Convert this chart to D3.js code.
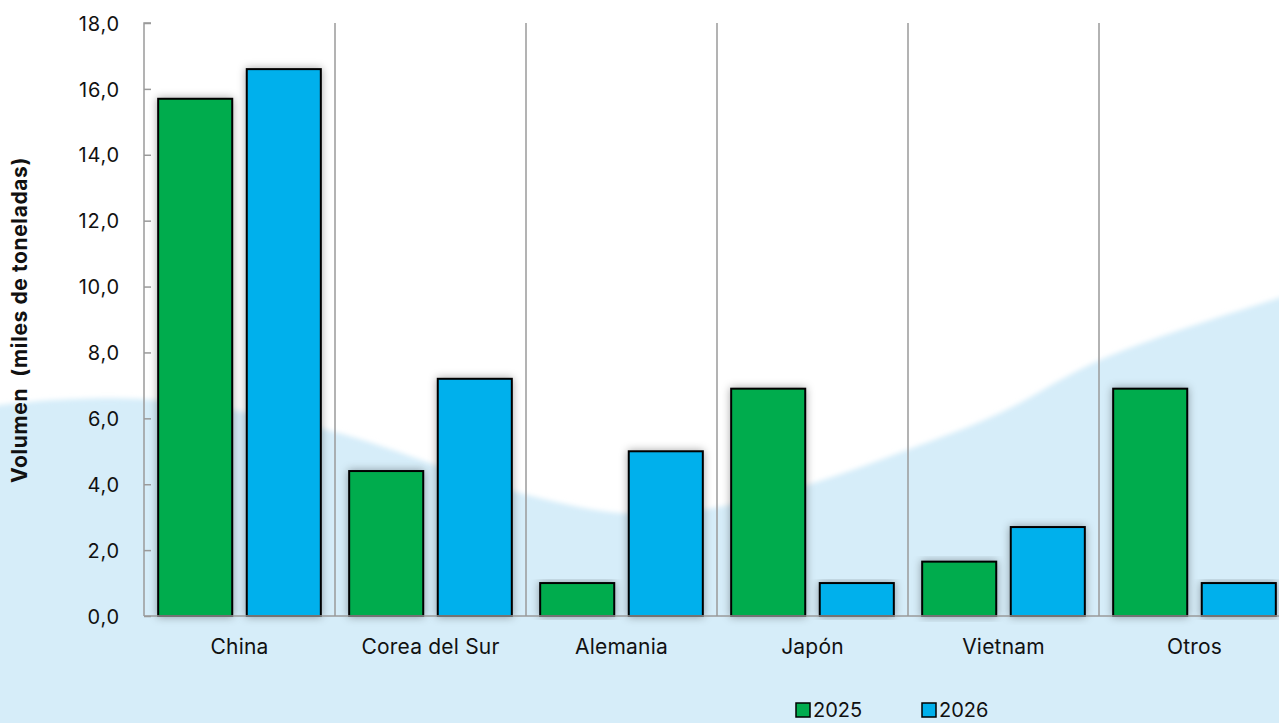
<!DOCTYPE html>
<html><head><meta charset="utf-8">
<script src="https://cdn.jsdelivr.net/npm/d3@7"></script>
<style>body{margin:0;background:#fff;}svg{display:block;font-family:"Inter","Liberation Sans",sans-serif;}</style>
</head><body><svg id="c" width="1279" height="723"></svg>
<script>
const categories = ["China","Corea del Sur","Alemania","Japón","Vietnam","Otros"];
const series = ["2025","2026"];
const values2025 = [15.7, 4.4, 1.0, 6.9, 1.65, 6.9];
const values2026 = [16.6, 7.2, 5.0, 1.0, 2.7, 1.0];
const yTicks = [0,2,4,6,8,10,12,14,16,18];
const colors = ["#00ac4e","#00b0ec"];

const svg = d3.select("#c");
const W = 1279, H = 723;
const m = {left:144, top:23, bottom:616};
const bandW = 191;

// background wave (decorative)
svg.append("rect").attr("width",W).attr("height",H).attr("fill","#ffffff");
const defs = svg.append("defs");
const bl = defs.append("filter").attr("id","soft").attr("x","-10%").attr("y","-10%").attr("width","120%").attr("height","120%");
bl.append("feGaussianBlur").attr("stdDeviation",2.5);
const wavePts = [[-20,410],[0,405],[140,399],[320,428],[520,493],[620,513],[700,510],[800,487],[907,450],[1000,413],[1100,360],[1279,298],[1300,292]];
const wline = d3.line().curve(d3.curveCatmullRom.alpha(0.5));
svg.append("path")
  .attr("d", wline(wavePts) + `L1300,${H+20}L-20,${H+20}Z`)
  .attr("fill","#d6edf9").attr("filter","url(#soft)");

const x = d3.scaleBand().domain(categories).range([m.left, m.left + bandW*categories.length]).paddingInner(0).paddingOuter(0);
const x1 = d3.scaleBand().domain(series).range([0, bandW]).paddingInner(0.164).paddingOuter(0.16);
const y = d3.scaleLinear().domain([0,18]).range([m.bottom, m.top]);

// separators
svg.append("g").selectAll("line").data(categories).join("line")
  .attr("x1",(d,i)=>m.left + bandW*(i+1)).attr("x2",(d,i)=>m.left + bandW*(i+1))
  .attr("y1",m.top).attr("y2",m.bottom).attr("stroke","#9a9a9a").attr("stroke-width",1.5);

// shadows
const sh = defs.append("filter").attr("id","sh").attr("x","-30%").attr("y","-10%").attr("width","160%").attr("height","120%");
sh.append("feDropShadow").attr("dx",0).attr("dy",0).attr("stdDeviation",4).attr("flood-color","#000").attr("flood-opacity",0.35);

const data = categories.map((c,i)=>({c, vals:[values2025[i], values2026[i]]}));
const g = svg.append("g");
data.forEach(d=>{
  d.vals.forEach((v,j)=>{
    g.append("rect")
      .attr("x", x(d.c) + x1(series[j]))
      .attr("y", y(v))
      .attr("width", x1.bandwidth())
      .attr("height", y(0)-y(v))
      .attr("fill", colors[j])
      .attr("stroke","#000").attr("stroke-width",2)
      .attr("filter","url(#sh)");
  });
});

// y axis
const ya = svg.append("g").attr("transform",`translate(${m.left},0)`)
  .call(d3.axisRight(y).tickValues(yTicks).tickSize(7).tickFormat(d=>d3.format(".1f")(d).replace(".",",")));
ya.select(".domain").attr("stroke","#9a9a9a").attr("stroke-width",1.5).attr("d",`M7,${m.top}H0V${m.bottom}`);
ya.selectAll(".tick line").attr("stroke","#9a9a9a").attr("stroke-width",1.5);
ya.selectAll(".tick text").attr("x",-24).attr("dy","0.36em").attr("text-anchor","end").attr("font-size",20)
  .attr("letter-spacing","0.8px").attr("fill","#111").attr("font-family","Inter, Liberation Sans, sans-serif");

// x axis baseline
svg.append("line").attr("x1",m.left).attr("x2",W).attr("y1",m.bottom).attr("y2",m.bottom).attr("stroke","#9a9a9a").attr("stroke-width",1.5);

// category labels
svg.append("g").selectAll("text").data(categories).join("text")
  .attr("x",d=>x(d)+x.bandwidth()/2).attr("y",654)
  .attr("text-anchor","middle").attr("font-size",21).attr("letter-spacing","0.2px").attr("fill","#111").text(d=>d);

// y title
svg.append("text").attr("transform","translate(27,320) rotate(-90)")
  .attr("text-anchor","middle").attr("font-size",21).attr("font-weight","bold").attr("letter-spacing","0.6px").attr("fill","#111")
  .attr("xml:space","preserve").style("white-space","pre")
  .text("Volumen  (miles de toneladas)");

// legend
const lg = svg.append("g");
const legX = [796, 922];
series.forEach((s,i)=>{
  lg.append("rect").attr("x",legX[i]).attr("y",703).attr("width",14).attr("height",14)
    .attr("fill",colors[i]).attr("stroke","#000").attr("stroke-width",1.5);
  lg.append("text").attr("x",legX[i]+17).attr("y",717).attr("font-size",20).attr("fill","#111").text(s);
});
</script></body></html>
